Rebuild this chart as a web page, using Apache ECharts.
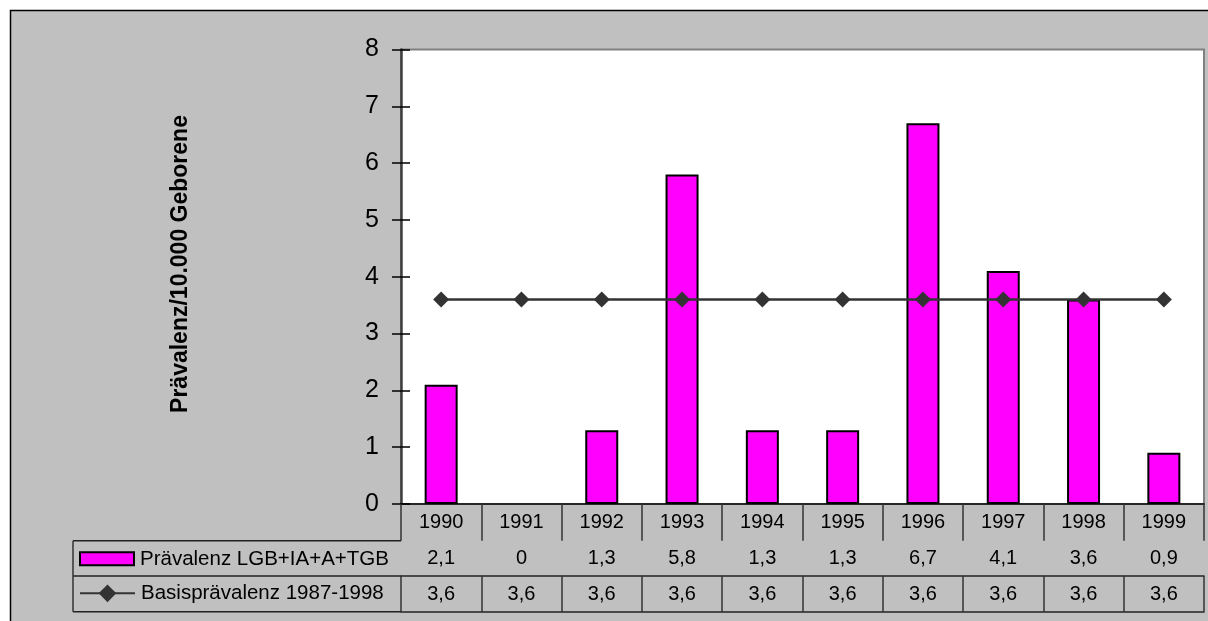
<!DOCTYPE html>
<html>
<head>
<meta charset="utf-8">
<script src="https://cdn.jsdelivr.net/npm/echarts@6/dist/echarts.min.js"></script>
<style>
  html, body { margin: 0; padding: 0; background: #ffffff; }
  #chart { width: 1208px; height: 621px; }
</style>
</head>
<body>
<div id="chart"></div>
<script>
// Jahre (Kategorien) und Werte pro Jahr
const years = ['1990', '1991', '1992', '1993', '1994', '1995', '1996', '1997', '1998', '1999'];
const praevalenz = [2.1, 0, 1.3, 5.8, 1.3, 1.3, 6.7, 4.1, 3.6, 0.9];
const basispraevalenz = [3.6, 3.6, 3.6, 3.6, 3.6, 3.6, 3.6, 3.6, 3.6, 3.6];
const seriesNames = ['Prävalenz LGB+IA+A+TGB', 'Basisprävalenz 1987-1998'];
const yAxisTitle = 'Prävalenz/10.000 Geborene';
const yMin = 0, yMax = 8, yStep = 1;

const FONT = 'Liberation Sans, Arial, Helvetica, sans-serif';
const GRID = { left: 401, top: 49.5, right: 4, bottom: 117 };
const ROW0 = 36.7, ROW1 = 35.3, ROW2 = 35.7;   // Höhen der Tabellenzeilen
const TABLE_LEFT = 73;
const LINE_COLOR = '#333333';
const CELL_LINE = { color: '#222222', width: 1.5 };

// Dezimalkomma für die Datentabelle
const fmt = v => String(v).replace('.', ',');

const chart = echarts.init(document.getElementById('chart'), null, { renderer: 'canvas' });

const tableAxis = (offset, rowHeight, values, labelShift) => ({
  type: 'category',
  data: years,
  gridIndex: 0,
  position: 'bottom',
  offset: offset,
  boundaryGap: true,
  axisLine: { show: true, lineStyle: CELL_LINE },
  axisTick: { show: rowHeight > 0, interval: 0, length: rowHeight, inside: false, lineStyle: { color: '#333333', width: 1.5 } },
  axisLabel: {
    show: !!values,
    interval: 0,
    margin: labelShift,
    verticalAlign: 'middle',
    color: '#000',
    fontSize: 20,
    fontFamily: FONT,
    formatter: (val, idx) => values ? values(val, idx) : ''
  },
  splitLine: { show: false }
});

const yBase = {
  type: 'value',
  min: yMin,
  max: yMax,
  interval: yStep,
  position: 'left',
  splitLine: { show: false }
};

const tableTop = 621 - GRID.bottom;

const option = {
  backgroundColor: '#ffffff',
  animation: false,
  grid: {
    left: GRID.left, top: GRID.top, right: GRID.right, bottom: GRID.bottom,
    show: true,
    backgroundColor: '#ffffff',
    borderColor: '#808080',
    borderWidth: 2,
    containLabel: false,
    outerBoundsMode: 'none'
  },
  legend: [
    {
      data: [{ name: seriesNames[0], icon: 'rect' }],
      left: TABLE_LEFT + 6, top: tableTop + ROW0 + ROW1 / 2 - 10,
      itemWidth: 54, itemHeight: 13, itemGap: 0, padding: 0,
      selectedMode: false,
      itemStyle: { borderColor: '#000', borderWidth: 2 },
      textStyle: { color: '#000', fontSize: 20.5, fontFamily: FONT, padding: [0, 0, 0, 1] }
    },
    {
      data: [seriesNames[1]],
      left: TABLE_LEFT + 6, top: tableTop + ROW0 + ROW1 + ROW2 / 2 - 11,
      itemWidth: 55, itemHeight: 22, itemGap: 0, padding: 0,
      selectedMode: false,
      lineStyle: { color: LINE_COLOR, width: 2 },
      textStyle: { color: '#000', fontSize: 20.5, fontFamily: FONT, padding: [0, 0, 0, 1] }
    }
  ],
  xAxis: [
    tableAxis(0, ROW0, (val) => val, 18),
    tableAxis(ROW0, ROW1, (val, idx) => fmt(praevalenz[idx]), 17.5),
    tableAxis(ROW0 + ROW1, ROW2, (val, idx) => fmt(basispraevalenz[idx]), 18),
    tableAxis(ROW0 + ROW1 + ROW2, 0, null, 0)
  ],
  yAxis: [
    Object.assign({}, yBase, {
      axisLine: { show: true, lineStyle: { color: '#404040', width: 2.5 } },
      axisTick: { show: true, length: 9, inside: false, lineStyle: { color: '#000', width: 1.5 } },
      axisLabel: { show: true, margin: 22, color: '#000', fontSize: 25, fontFamily: FONT }
    }),
    Object.assign({}, yBase, {
      axisLine: { show: false },
      axisTick: { show: true, length: 9, inside: true, lineStyle: { color: '#000', width: 1.5 } },
      axisLabel: { show: false }
    })
  ],
  series: [
    {
      name: seriesNames[0],
      type: 'bar',
      xAxisIndex: 0,
      yAxisIndex: 0,
      barWidth: 33,
      itemStyle: { color: '#ff00ff', borderColor: '#000000', borderWidth: 2 },
      data: praevalenz.map(v => v === 0 ? { value: v, itemStyle: { borderWidth: 0 } } : v),
      z: 2
    },
    {
      name: seriesNames[1],
      type: 'line',
      xAxisIndex: 0,
      yAxisIndex: 0,
      symbol: 'diamond',
      symbolSize: 16,
      lineStyle: { color: LINE_COLOR, width: 2.5 },
      itemStyle: { color: LINE_COLOR },
      data: basispraevalenz,
      z: 3
    }
  ],
  graphic: [
    {
      // grauer Diagrammhintergrund mit Rahmen
      type: 'rect', z: -100, silent: true,
      shape: { x: 10.5, y: 10.5, width: 1400, height: 800 },
      style: { fill: '#c0c0c0', stroke: '#000000', lineWidth: 1.5 }
    },
    {
      type: 'text', z: 10, silent: true,
      x: 181, y: 264, rotation: Math.PI / 2,
      style: {
        text: yAxisTitle, fill: '#000', font: 'bold 23px ' + FONT,
        align: 'center', verticalAlign: 'middle'
      }
    }
  ]
};

// Linien der Legendenspalte links der Datentabelle
const rowLines = [tableTop + ROW0, tableTop + ROW0 + ROW1, tableTop + ROW0 + ROW1 + ROW2];
rowLines.forEach(y => {
  option.graphic.push({
    type: 'line', z: 10, silent: true,
    shape: { x1: TABLE_LEFT, y1: y, x2: GRID.left, y2: y },
    style: { stroke: CELL_LINE.color, lineWidth: CELL_LINE.width }
  });
});
option.graphic.push({
  type: 'line', z: 10, silent: true,
  shape: { x1: TABLE_LEFT, y1: rowLines[0], x2: TABLE_LEFT, y2: rowLines[2] },
  style: { stroke: '#333333', lineWidth: 1.5 }
});

chart.setOption(option);
</script>
</body>
</html>
